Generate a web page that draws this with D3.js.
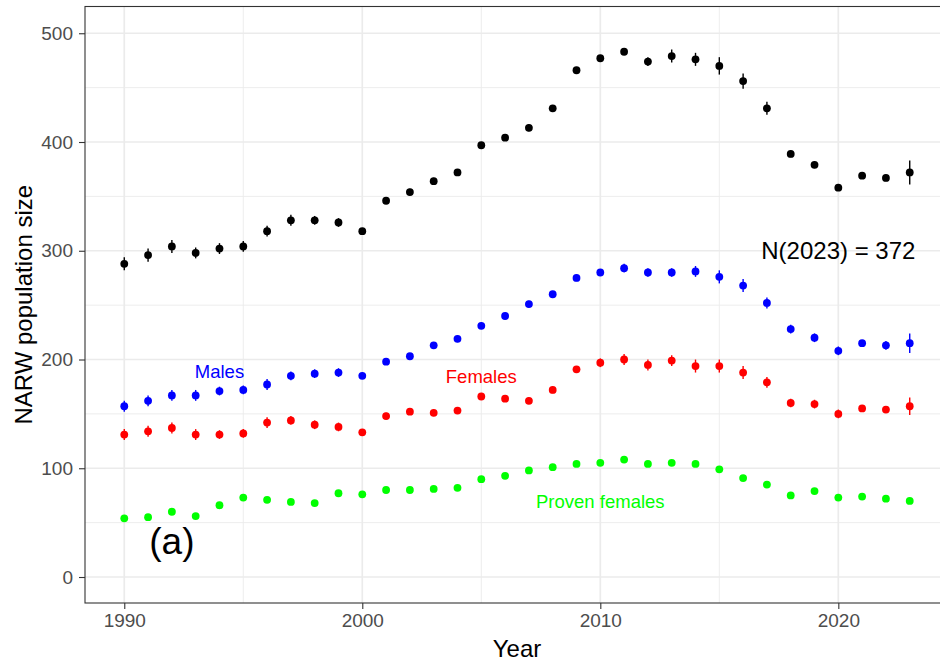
<!DOCTYPE html>
<html>
<head>
<meta charset="utf-8">
<script src="https://cdn.jsdelivr.net/npm/d3@7"></script>
<style>
  html, body { margin: 0; padding: 0; background: #fff; }
  svg { display: block; font-family: "Liberation Sans", Arial, sans-serif; }
</style>
</head>
<body>
<svg id="chart" width="940" height="668"></svg>
<script>
// ---- data ----
const years = d3.range(1990, 2024);
const total = [288, 296, 304, 298, 302, 304, 318, 328, 328, 326, 318, 346, 354, 364, 372, 397, 404, 413, 431, 466, 477, 483, 474, 479, 476, 470, 456, 431, 389, 379, 358, 369, 367, 372];
const totalErr = [6, 6, 6, 5, 5, 5, 5, 5, 4, 4, 3, 3, 3, 3, 3, 3, 3, 3, 3, 3, 3, 3, 4, 6, 6, 8, 7, 6, 3, 3, 3, 3, 3, 11];
const males = [157, 162, 167, 167, 171, 172, 177, 185, 187, 188, 185, 198, 203, 213, 219, 231, 240, 251, 260, 275, 280, 284, 280, 280, 281, 276, 268, 252, 228, 220, 208, 215, 213, 215];
const malesErr = [5, 5, 5, 5, 4, 4, 5, 4, 4, 4, 3, 3, 3, 3, 3, 3, 3, 3, 3, 3, 3, 4, 4, 4, 5, 6, 6, 5, 4, 4, 4, 3, 4, 9];
const females = [131, 134, 137, 131, 131, 132, 142, 144, 140, 138, 133, 148, 152, 151, 153, 166, 164, 162, 172, 191, 197, 200, 195, 199, 194, 194, 188, 179, 160, 159, 150, 155, 154, 157];
const femalesErr = [5, 5, 5, 5, 4, 4, 5, 4, 4, 4, 3, 3, 3, 3, 3, 3, 3, 3, 3, 3, 4, 5, 5, 5, 6, 6, 6, 5, 4, 4, 4, 3, 3, 8];
const proven = [54, 55, 60, 56, 66, 73, 71, 69, 68, 77, 76, 80, 80, 81, 82, 90, 93, 98, 101, 104, 105, 108, 104, 105, 104, 99, 91, 85, 75, 79, 73, 74, 72, 70];
const xTicks = [1990, 2000, 2010, 2020];
const xMinor = [1995, 2005, 2015];
const yTicks = [0, 100, 200, 300, 400, 500];
const yMinor = [50, 150, 250, 350, 450];

const seriesList = [
  {name: "total", values: total, err: totalErr, color: "#000000"},
  {name: "males", values: males, err: malesErr, color: "#0000FF"},
  {name: "females", values: females, err: femalesErr, color: "#FF0000"},
  {name: "proven", values: proven, err: null, color: "#00FF00"}
];

const labels = [
  {text: "Males", x: 1994, y: 183, color: "#0000FF", size: 18.5},
  {text: "Females", x: 2005, y: 178.5, color: "#FF0000", size: 18.5},
  {text: "Proven females", x: 2010, y: 63.5, color: "#00FF00", size: 18.5},
  {text: "N(2023) = 372", x: 2020, y: 292.5, color: "#000000", size: 24},
  {text: "(a)", x: 1992, y: 21, color: "#000000", size: 37}
];

// ---- layout ----
const svg = d3.select("#chart");
const panel = {left: 85, right: 949, top: 6.5, bottom: 603};

const x = d3.scaleLinear().domain([1988.35, 2024.65]).range([panel.left, panel.right]);
const y = d3.scaleLinear().domain([-23.9, 524.6]).range([panel.bottom, panel.top]);

const g = svg.append("g");

g.append("rect").attr("x", panel.left).attr("y", panel.top)
  .attr("width", panel.right - panel.left).attr("height", panel.bottom - panel.top)
  .attr("fill", "#fff");

// minor grid
g.selectAll(".ymin").data(yMinor).join("line")
  .attr("x1", panel.left).attr("x2", panel.right)
  .attr("y1", d => y(d)).attr("y2", d => y(d))
  .attr("stroke", "#EBEBEB").attr("stroke-width", 0.9);
g.selectAll(".xmin").data(xMinor).join("line")
  .attr("y1", panel.top).attr("y2", panel.bottom)
  .attr("x1", d => x(d)).attr("x2", d => x(d))
  .attr("stroke", "#EBEBEB").attr("stroke-width", 0.9);
// major grid
g.selectAll(".ymaj").data(yTicks).join("line")
  .attr("x1", panel.left).attr("x2", panel.right)
  .attr("y1", d => y(d)).attr("y2", d => y(d))
  .attr("stroke", "#EBEBEB").attr("stroke-width", 1.7);
g.selectAll(".xmaj").data(xTicks).join("line")
  .attr("y1", panel.top).attr("y2", panel.bottom)
  .attr("x1", d => x(d)).attr("x2", d => x(d))
  .attr("stroke", "#EBEBEB").attr("stroke-width", 1.7);

// data
seriesList.forEach(s => {
  const sg = g.append("g");
  if (s.err) {
    sg.selectAll("line").data(years).join("line")
      .attr("x1", d => x(d)).attr("x2", d => x(d))
      .attr("y1", (d, i) => y(s.values[i] - s.err[i]))
      .attr("y2", (d, i) => y(s.values[i] + s.err[i]))
      .attr("stroke", s.color).attr("stroke-width", 1.4);
  }
  sg.selectAll("circle").data(years).join("circle")
    .attr("cx", d => x(d)).attr("cy", (d, i) => y(s.values[i]))
    .attr("r", 3.9).attr("fill", s.color);
});

// annotations
g.selectAll(".lab").data(labels).join("text")
  .attr("x", d => x(d.x)).attr("y", d => y(d.y))
  .attr("text-anchor", "middle")
  .attr("fill", d => d.color)
  .attr("font-size", d => d.size + "px")
  .text(d => d.text);

// panel border
g.append("rect").attr("x", panel.left).attr("y", panel.top)
  .attr("width", panel.right - panel.left).attr("height", panel.bottom - panel.top)
  .attr("fill", "none").attr("stroke", "#333333").attr("stroke-width", 1.1);

// axes
const xAxis = d3.axisBottom(x).tickValues(xTicks).tickFormat(d3.format("d"))
  .tickSize(6).tickPadding(5);
const yAxis = d3.axisLeft(y).tickValues(yTicks).tickFormat(d3.format("d"))
  .tickSize(6).tickPadding(6);

const gx = svg.append("g").attr("transform", `translate(0,${panel.bottom})`).call(xAxis);
const gy = svg.append("g").attr("transform", `translate(${panel.left},0)`).call(yAxis);
[gx, gy].forEach(ax => {
  ax.select(".domain").remove();
  ax.selectAll(".tick line").attr("stroke", "#333333").attr("stroke-width", 1.1);
  ax.selectAll(".tick text").attr("fill", "#4D4D4D")
    .attr("font-size", "19px").attr("font-family", "Liberation Sans, Arial, sans-serif");
});

// axis titles
svg.append("text").attr("x", (panel.left + panel.right) / 2).attr("y", 657)
  .attr("text-anchor", "middle").attr("font-size", "24px").attr("fill", "#000")
  .text("Year");
svg.append("text")
  .attr("transform", `translate(31.5,${(panel.top + panel.bottom) / 2}) rotate(-90)`)
  .attr("text-anchor", "middle").attr("font-size", "24px").attr("fill", "#000")
  .text("NARW population size");
</script>
</body>
</html>
